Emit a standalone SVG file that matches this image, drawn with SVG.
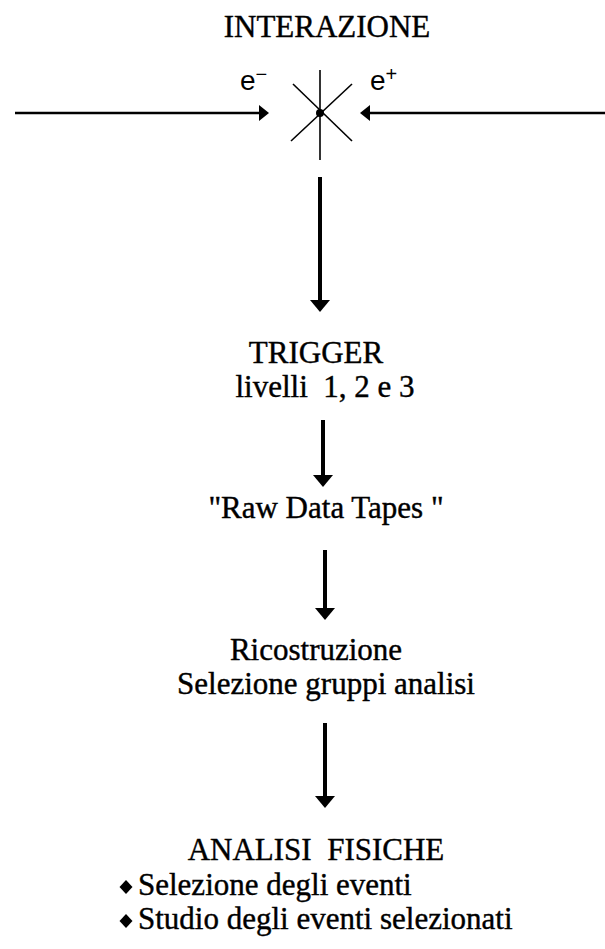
<svg xmlns="http://www.w3.org/2000/svg" width="605" height="949" viewBox="0 0 605 949">
<style>
.t{font-family:"Liberation Serif","Times New Roman",serif;font-size:31px;fill:#000;stroke:#000;stroke-width:0.4;white-space:pre}
.s{font-family:"Liberation Sans",Arial,sans-serif;font-size:28px;fill:#000}
.v{stroke:#000;stroke-width:4;fill:none}
.h{stroke:#000;stroke-width:2.5;fill:none}
.x{stroke:#000;stroke-width:1.6;fill:none}
</style>
<defs>
<marker id="ah" viewBox="0 0 12 20" refX="0" refY="10" markerWidth="12" markerHeight="20" markerUnits="userSpaceOnUse" orient="auto">
<path d="M0,0 L12,10 L0,20 Z" fill="#000"/>
</marker>
<marker id="ahs" viewBox="0 0 10 16" refX="0" refY="8" markerWidth="10" markerHeight="16" markerUnits="userSpaceOnUse" orient="auto">
<path d="M0,0 L10,8 L0,16 Z" fill="#000"/>
</marker>
</defs>
<rect width="605" height="949" fill="#fff"/>
<g id="interazione">
<text class="t" x="327" y="37" text-anchor="middle" font-size="33">INTERAZIONE</text>
</g>
<g id="collisione">
<line class="x" x1="320" y1="70" x2="320" y2="160"/>
<line class="x" x1="293" y1="84" x2="352" y2="141"/>
<line class="x" x1="352" y1="84" x2="291" y2="141"/>
<circle cx="320" cy="113" r="4" fill="#000"/>
<text class="s" x="240" y="90">e<tspan font-size="20" dy="-9">−</tspan></text>
<text class="s" x="370" y="90">e<tspan font-size="20" dy="-9">+</tspan></text>
</g>
<g id="trigger">
<text class="t" x="316" y="363" text-anchor="middle">TRIGGER</text>
<text class="t" x="325" y="397" text-anchor="middle">livelli  1, 2 e 3</text>
</g>
<g id="raw-data">
<text class="t" x="326" y="518" text-anchor="middle">"Raw Data Tapes "</text>
</g>
<g id="ricostruzione">
<text class="t" x="316" y="660" text-anchor="middle">Ricostruzione</text>
<text class="t" x="326" y="694" text-anchor="middle">Selezione gruppi analisi</text>
</g>
<g id="analisi">
<text class="t" x="316" y="860" text-anchor="middle">ANALISI  FISICHE</text>
<path d="M126,880 L132.5,887 L126,894 L119.5,887 Z" fill="#000"/>
<text class="t" x="138" y="895">Selezione degli eventi</text>
<path d="M126,914 L132.5,921 L126,928 L119.5,921 Z" fill="#000"/>
<text class="t" x="138" y="929">Studio degli eventi selezionati</text>
</g>
<g id="connectors">
<line class="h" x1="15" y1="113" x2="259" y2="113" marker-end="url(#ahs)"/>
<line class="h" x1="605" y1="113" x2="370" y2="113" marker-end="url(#ahs)"/>
<line class="v" x1="320" y1="177" x2="320" y2="300" marker-end="url(#ah)"/>
<line class="v" x1="323" y1="420" x2="323" y2="475" marker-end="url(#ah)"/>
<line class="v" x1="325" y1="550" x2="325" y2="608" marker-end="url(#ah)"/>
<line class="v" x1="325" y1="723" x2="325" y2="796" marker-end="url(#ah)"/>
</g>
</svg>
